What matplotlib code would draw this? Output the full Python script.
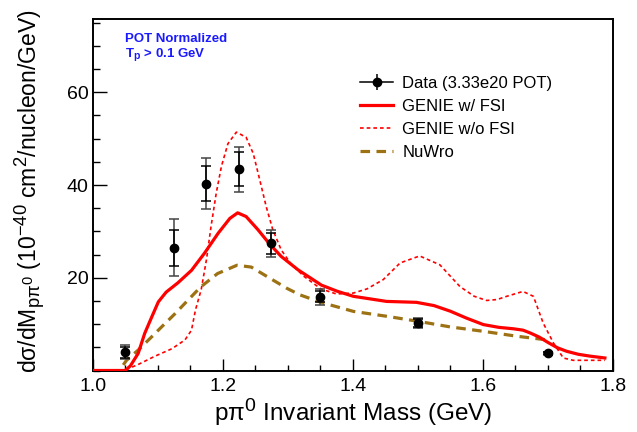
import matplotlib
matplotlib.use("Agg")
import matplotlib.pyplot as plt
from matplotlib.lines import Line2D
from matplotlib.legend_handler import HandlerTuple

try:
    import matplotlib._mathtext as _mt
    _mt.SHRINK_FACTOR = 0.8
except Exception:
    pass

plt.rcParams['font.family'] = ['Liberation Sans', 'DejaVu Sans']
plt.rcParams['mathtext.fontset'] = 'custom'
plt.rcParams['mathtext.rm'] = 'Liberation Sans'
plt.rcParams['mathtext.it'] = 'Liberation Sans:italic'
plt.rcParams['mathtext.bf'] = 'Liberation Sans:bold'

# ---- data ----
x_data = [1.05, 1.125, 1.175, 1.225, 1.275, 1.35, 1.5, 1.7]
y_data = [3.9, 26.5, 40.3, 43.4, 27.4, 15.9, 10.2, 3.7]
err_stat = [1.1, 3.9, 3.8, 3.7, 2.2, 1.2, 0.8, 0.2]
err_tot = [1.5, 6.2, 5.5, 4.9, 3.0, 1.7, 1.05, 0.3]

genie_fsi_x = [1.000, 1.050, 1.058, 1.070, 1.080, 1.091, 1.101, 1.113, 1.131, 1.152,
               1.172, 1.193, 1.211, 1.223, 1.236, 1.254, 1.272, 1.290, 1.316, 1.352,
               1.376, 1.401, 1.452, 1.498, 1.525, 1.550, 1.575, 1.601, 1.625, 1.647,
               1.662, 1.673, 1.687, 1.701, 1.715, 1.729, 1.747, 1.765, 1.788]
genie_fsi_y = [0.0, 0.0, 1.0, 3.7, 8.0, 11.6, 14.8, 16.9, 18.9, 21.6,
               25.3, 29.6, 32.8, 34.0, 33.2, 30.4, 27.3, 24.6, 21.7, 18.4,
               17.1, 16.0, 14.9, 14.7, 14.0, 12.8, 11.3, 9.9, 9.3, 9.0,
               8.7, 8.1, 7.2, 6.0, 4.9, 4.15, 3.5, 3.1, 2.7]

genie_nofsi_x = [1.000, 1.048, 1.070, 1.096, 1.122, 1.142, 1.152, 1.158, 1.167, 1.175,
                 1.182, 1.190, 1.198, 1.208, 1.221, 1.236, 1.247, 1.257, 1.267, 1.277,
                 1.290, 1.305, 1.325, 1.351, 1.375, 1.401, 1.422, 1.447, 1.473, 1.503,
                 1.534, 1.565, 1.587, 1.606, 1.622, 1.637, 1.662, 1.678, 1.693, 1.709,
                 1.724, 1.739, 1.788]
genie_nofsi_y = [0.0, 0.0, 1.3, 3.1, 4.7, 6.6, 8.7, 13.0, 17.5, 23.9,
                 31.0, 38.2, 44.0, 48.9, 51.4, 50.3, 46.8, 41.1, 35.3, 30.4,
                 26.0, 23.0, 20.3, 17.6, 16.5, 16.7, 17.6, 19.6, 23.2, 24.7,
                 22.8, 18.1, 16.0, 15.1, 15.3, 16.0, 17.05, 16.0, 10.25, 5.9,
                 2.7, 2.2, 2.2]

nuwro_x = [1.047, 1.052, 1.070, 1.091, 1.106, 1.127, 1.142, 1.166, 1.192, 1.222,
           1.244, 1.269, 1.299, 1.319, 1.351, 1.401, 1.452, 1.501, 1.550, 1.601,
           1.652, 1.693, 1.702]
nuwro_y = [1.2, 2.2, 4.4, 7.3, 9.4, 12.3, 14.5, 18.0, 20.9, 22.7,
           22.3, 20.2, 17.7, 16.3, 14.7, 12.75, 11.7, 10.6, 9.4, 8.45,
           7.4, 6.7, 6.5]

x_ticks = [1.0, 1.2, 1.4, 1.6, 1.8]
y_ticks = [20, 40, 60]

labels = ["Data (3.33e20 POT)", "GENIE w/ FSI", "GENIE w/o FSI", "NuWro"]

# ---- figure ----
W, H = 637, 432
fig = plt.figure(figsize=(W / 100, H / 100), dpi=100)
ax = fig.add_axes([92.7 / W, 1 - 370.5 / H, (612.7 - 92.7) / W, (370.5 - 19) / H])

red = '#ff0000'
brown = '#9c7214'

ax.plot(genie_nofsi_x, genie_nofsi_y, color=red, lw=1.2, ls=(0, (2.2, 1.8)), zorder=2)
ax.plot(nuwro_x, nuwro_y, color=brown, lw=2.3, ls=(0, (3, 2)), zorder=2)
ax.plot(genie_fsi_x, genie_fsi_y, color=red, lw=2.3, zorder=3)

ax.errorbar(x_data, y_data, yerr=err_tot, fmt='none', ecolor='#444444', elinewidth=1.1,
            capsize=3.3, capthick=1.1, zorder=4)
ax.errorbar(x_data, y_data, yerr=err_stat, fmt='o', color='black', ms=6, elinewidth=1.1,
            capsize=3.3, capthick=1.1, zorder=5)

ax.set_xlim(1.0, 1.8)
ax.set_ylim(0, 75.8)
ax.set_xticks(x_ticks)
ax.set_xticklabels(['1.0', '1.2', '1.4', '1.6', '1.8'])
ax.set_xticks([1.0 + 0.05 * i for i in range(17)], minor=True)
ax.set_yticks(y_ticks)
ax.set_yticks([5 * i for i in range(16)], minor=True)
ax.tick_params(which='both', direction='in', top=False, right=False, labelsize=14)
ax.tick_params(axis='y', which='major', length=10, width=1.0, pad=3.2)
ax.tick_params(axis='y', which='minor', length=5, width=1.0)
ax.tick_params(axis='x', which='major', length=9, width=1.0, pad=5.5)
ax.tick_params(axis='x', which='minor', length=4.5, width=1.0)
for s in ax.spines.values():
    s.set_linewidth(1.4)

fig.text(352.7 / W, 1 - 421 / H, r'p$\mathrm{π^{0}}$ Invariant Mass (GeV)',
         fontsize=17.5, ha='center', va='baseline')
fig.text(30 / W, 1 - 191.5 / H,
         r'd$\mathrm{σ}$/dM$_{\mathrm{pπ^{0}}}$ (10$^{-40}$ cm$^{2}$/nucleon/GeV)',
         rotation=90, ha='center', va='center', fontsize=16.5)

fig.text(125 / W, 1 - 41.7 / H, 'POT Normalized', color='#1a1aff', fontsize=9.5,
         fontweight='bold')
fig.text(125 / W, 1 - 56.7 / H, r'T$_{\mathbf{p}}$ > 0.1 GeV', color='#1a1aff', fontsize=9.5,
         fontweight='bold')

h_data = (Line2D([], [], color='black', lw=1.1, marker='o', ms=6),
          Line2D([], [], color='black', lw=0, marker='|', ms=12, mew=1.1))
h_fsi = Line2D([], [], color=red, lw=2.3)
h_nofsi = Line2D([], [], color=red, lw=1.2, ls=(0, (2.2, 1.8)))
h_nuwro = Line2D([], [], color=brown, lw=2.3, ls=(0, (3, 2)))
ax.legend([h_data, h_fsi, h_nofsi, h_nuwro], labels,
          handler_map={tuple: HandlerTuple(ndivide=1)},
          loc='upper left', bbox_to_anchor=(360 / W, 1 - 76 / H),
          bbox_transform=fig.transFigure, frameon=False, fontsize=12,
          handlelength=2.0, handletextpad=0.55, labelspacing=0.48,
          borderpad=0, borderaxespad=0)

fig.savefig('out.png', dpi=100)
